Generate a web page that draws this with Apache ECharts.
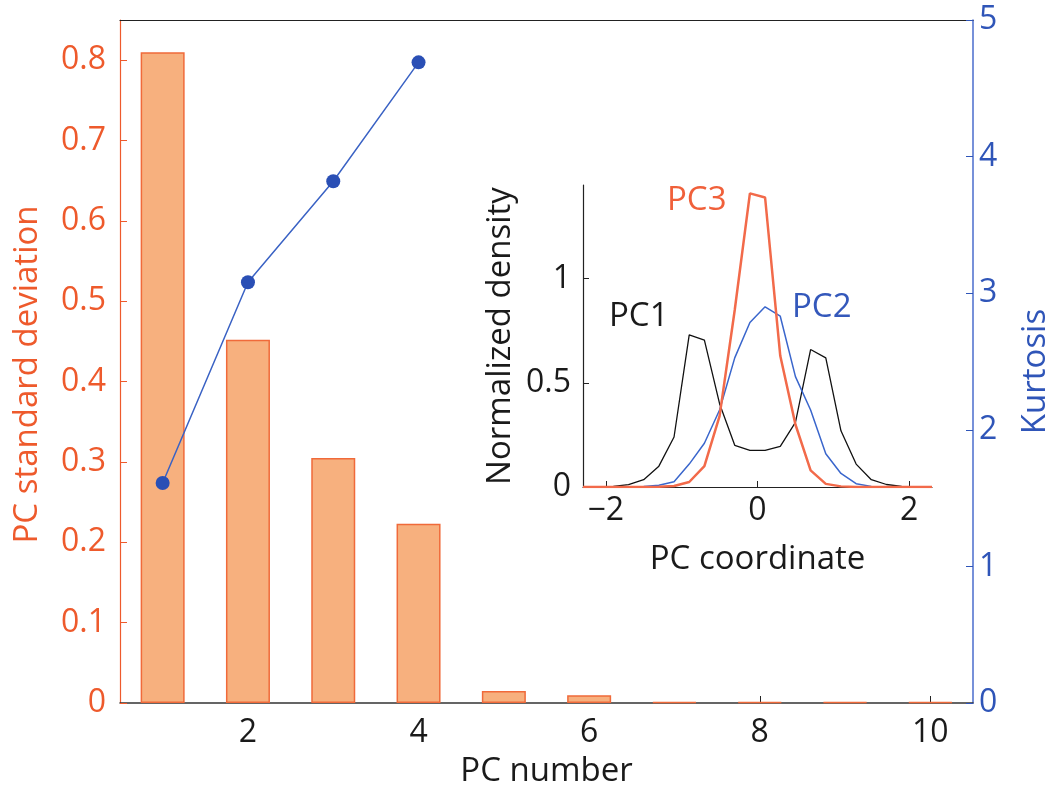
<!DOCTYPE html>
<html>
<head>
<meta charset="utf-8">
<script src="https://cdn.jsdelivr.net/npm/echarts@6/dist/echarts.min.js"></script>
<style>
html,body{margin:0;padding:0;background:#fff;}
#chart{width:1060px;height:793px;}
</style>
</head>
<body>
<div id="chart"></div>
<script>
// Main chart data
var pcNumbers = [1, 2, 3, 4, 5, 6, 7, 8, 9, 10];
var pcStd = [0.81, 0.452, 0.305, 0.223, 0.015, 0.0095, 0.001, 0.001, 0.001, 0.001];
var kurtPC = [1, 2, 3, 4];
var kurtosis = [1.61, 3.08, 3.82, 4.69];
var xTicks = [2, 4, 6, 8, 10];

// Inset data
var insetX = [-2.3, -2.1, -1.9, -1.7, -1.5, -1.3, -1.1, -0.9, -0.7, -0.5, -0.3, -0.1, 0.1, 0.3, 0.5, 0.7, 0.9, 1.1, 1.3, 1.5, 1.7, 1.9, 2.1, 2.3];
var pc1 = [null, 0, 0.003, 0.011, 0.035, 0.10, 0.24, 0.73, 0.705, 0.40, 0.20, 0.176, 0.176, 0.195, 0.31, 0.66, 0.62, 0.27, 0.11, 0.035, 0.012, 0.003, 0, null];
var pc2 = [0, 0, 0, 0.001, 0.003, 0.008, 0.025, 0.11, 0.21, 0.37, 0.62, 0.79, 0.865, 0.82, 0.53, 0.37, 0.16, 0.065, 0.016, 0.003, 0.001, 0, 0, 0];
var pc3 = [0, 0, 0, 0, 0, 0.001, 0.005, 0.024, 0.10, 0.34, 0.85, 1.41, 1.39, 0.63, 0.30, 0.08, 0.015, 0.003, 0, 0, 0, 0, 0, 0];
var insetXTicks = [-2, 0, 2];
var insetYTicks = [0, 0.5, 1];

function pairs(xs, ys) { return xs.map(function (x, i) { return [x, ys[i]]; }); }

var FONT = 'Open Sans';
var ORANGE = '#ee5a2c';
var BLUE = '#2f55b8';
var TICK_FS = 32;
var NAME_FS = 33;

var chart = echarts.init(document.getElementById('chart'), null, {renderer: 'canvas'});
var option = {
  backgroundColor: '#ffffff',
  animation: false,
  textStyle: {fontFamily: FONT},
  grid: [
    {left: 120, right: 70, top: 20, bottom: 87, containLabel: false},
    {left: 583, right: 128, top: 185, bottom: 306, containLabel: false}
  ],
  xAxis: [
    {
      type: 'value', gridIndex: 0, min: 0.5, max: 10.5,
      name: 'PC number', nameLocation: 'middle', nameGap: 52,
      nameTextStyle: {color: '#1a1a1a', fontSize: NAME_FS, fontFamily: FONT},
      axisLine: {show: true, lineStyle: {color: '#333', width: 1.5}},
      axisTick: {show: true, inside: true, length: 7, customValues: xTicks, lineStyle: {color: '#222'}},
      axisLabel: {customValues: xTicks, color: '#1a1a1a', fontSize: TICK_FS, margin: 14, fontFamily: FONT},
      splitLine: {show: false}
    },
    {
      type: 'value', gridIndex: 0, min: 0.5, max: 10.5, position: 'top',
      axisLine: {show: true, onZero: false, lineStyle: {color: '#222', width: 1.2}},
      axisTick: {show: false}, axisLabel: {show: false}, splitLine: {show: false}
    },
    {
      type: 'value', gridIndex: 1, min: -2.3, max: 2.3,
      name: 'PC coordinate', nameLocation: 'middle', nameGap: 56,
      nameTextStyle: {color: '#1a1a1a', fontSize: NAME_FS, fontFamily: FONT},
      axisLine: {show: true, onZero: false, lineStyle: {color: '#222', width: 1.2}},
      axisTick: {show: true, inside: true, length: 6, customValues: insetXTicks, lineStyle: {color: '#222'}},
      axisLabel: {customValues: insetXTicks, color: '#1a1a1a', fontSize: TICK_FS, margin: 8, fontFamily: FONT,
        formatter: function (v) { return String(v).replace('-', '\u2212'); }},
      splitLine: {show: false}
    }
  ],
  yAxis: [
    {
      type: 'value', gridIndex: 0, min: 0, max: 0.85, interval: 0.1, position: 'left',
      name: 'PC standard deviation', nameLocation: 'middle', nameGap: 76, nameRotate: 90,
      nameTextStyle: {color: ORANGE, fontSize: NAME_FS, fontFamily: FONT, padding: [0, 26, 0, 0]},
      axisLine: {show: true, onZero: false, lineStyle: {color: ORANGE, width: 1.2}},
      axisTick: {show: true, inside: true, length: 7, lineStyle: {color: ORANGE}},
      axisLabel: {color: ORANGE, fontSize: TICK_FS, margin: 14, showMaxLabel: false, fontFamily: FONT,
        formatter: function (v) { return Math.round(v * 10) / 10 === 0 ? '0' : (Math.round(v * 10) / 10).toFixed(1); }},
      splitLine: {show: false}
    },
    {
      type: 'value', gridIndex: 0, min: 0, max: 5, interval: 1, position: 'right',
      name: 'Kurtosis', nameLocation: 'middle', nameGap: 46, nameRotate: 90,
      nameTextStyle: {color: BLUE, fontSize: NAME_FS, fontFamily: FONT, padding: [0, 20, 0, 0]},
      axisLine: {show: true, onZero: false, lineStyle: {color: '#4a6ccc', width: 1.5}},
      axisTick: {show: true, inside: true, length: 7, lineStyle: {color: BLUE}},
      axisLabel: {color: BLUE, fontSize: TICK_FS, margin: 6, fontFamily: FONT},
      splitLine: {show: false}
    },
    {
      type: 'value', gridIndex: 1, min: 0, max: 1.45,
      name: 'Normalized density', nameLocation: 'middle', nameGap: 66, nameRotate: 90,
      nameTextStyle: {color: '#1a1a1a', fontSize: NAME_FS, fontFamily: FONT},
      axisLine: {show: true, onZero: false, lineStyle: {color: '#222', width: 1.2}},
      axisTick: {show: true, inside: true, length: 6, customValues: insetYTicks, lineStyle: {color: '#222'}},
      axisLabel: {customValues: insetYTicks, color: '#1a1a1a', fontSize: TICK_FS, margin: 12, fontFamily: FONT},
      splitLine: {show: false}
    }
  ],
  series: [
    {
      type: 'bar', xAxisIndex: 0, yAxisIndex: 0, barWidth: 44,
      data: pairs(pcNumbers, pcStd),
      itemStyle: {color: '#f7b07e', borderColor: '#f06a3a', borderWidth: 1.5},
      z: 2
    },
    {
      type: 'line', xAxisIndex: 0, yAxisIndex: 1,
      data: pairs(kurtPC, kurtosis),
      symbol: 'circle', symbolSize: 14,
      lineStyle: {color: '#3a62c4', width: 1.5},
      itemStyle: {color: '#2a4fb5'},
      z: 5
    },
    {
      type: 'line', xAxisIndex: 2, yAxisIndex: 2, data: pairs(insetX, pc1),
      showSymbol: false, symbol: 'none', lineStyle: {color: '#111', width: 1.3}, z: 3
    },
    {
      type: 'line', xAxisIndex: 2, yAxisIndex: 2, data: pairs(insetX, pc2),
      showSymbol: false, symbol: 'none', lineStyle: {color: '#3a66cc', width: 1.5}, z: 4
    },
    {
      type: 'line', xAxisIndex: 2, yAxisIndex: 2, data: pairs(insetX, pc3),
      showSymbol: false, symbol: 'none', lineStyle: {color: '#f26a4a', width: 2.5}, z: 5
    }
  ],
  graphic: [
    {type: 'text', left: 609, top: 300, style: {text: 'PC1', fill: '#1a1a1a', font: '33px "Open Sans"'}},
    {type: 'text', left: 667, top: 184, style: {text: 'PC3', fill: '#f0603a', font: '33px "Open Sans"'}},
    {type: 'text', left: 792, top: 291, style: {text: 'PC2', fill: '#3458bb', font: '33px "Open Sans"'}}
  ]
};
chart.setOption(option);
</script>
</body>
</html>
